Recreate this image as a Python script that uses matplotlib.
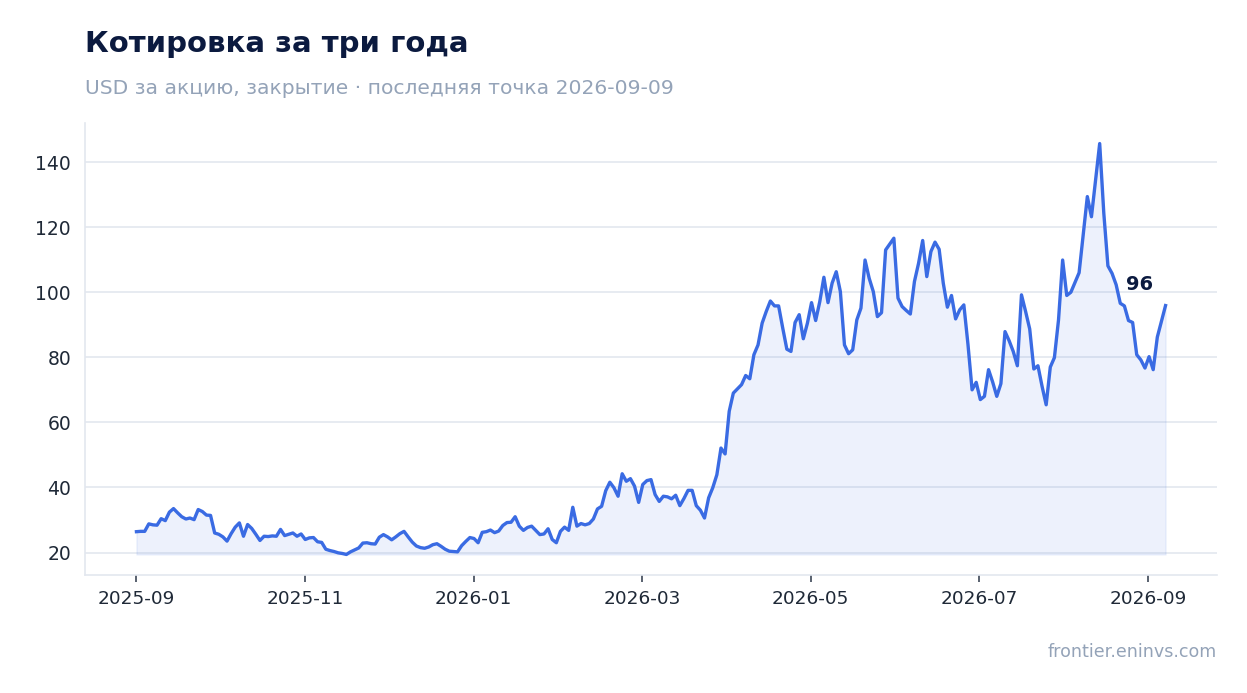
import numpy as np
import pandas as pd
import matplotlib
matplotlib.use("Agg")
import matplotlib.pyplot as plt
import matplotlib.dates as mdates
from matplotlib.ticker import FixedLocator, FixedFormatter

start_date = "2025-09-01"
end_date = "2026-09-09"

prices = [
    26.4, 26.5, 26.5, 28.8, 28.5, 28.4, 30.4, 29.8, 32.4, 33.5,
    32.2, 31.0, 30.3, 30.6, 30.1, 33.2, 32.6, 31.5, 31.4, 26.0,
    25.6, 24.8, 23.5, 25.8, 27.8, 29.1, 25.0, 28.6, 27.4, 25.6,
    23.7, 25.0, 24.9, 25.1, 25.0, 27.1, 25.2, 25.6, 26.0, 25.0,
    25.7, 24.0, 24.5, 24.6, 23.3, 23.1, 21.0, 20.6, 20.3, 19.9,
    19.7, 19.4, 20.2, 20.8, 21.4, 22.9, 23.0, 22.7, 22.6, 24.7,
    25.5, 24.8, 23.9, 24.8, 25.8, 26.5, 24.8, 23.2, 22.0, 21.5,
    21.3, 21.7, 22.4, 22.7, 21.9, 21.0, 20.4, 20.3, 20.2, 22.1,
    23.4, 24.6, 24.3, 23.0, 26.2, 26.4, 26.9, 26.1, 26.6, 28.3,
    29.2, 29.3, 31.0, 28.1, 26.8, 27.7, 28.1, 26.8, 25.5, 25.7,
    27.3, 24.0, 23.0, 26.5, 27.8, 26.8, 33.9, 28.1, 28.9, 28.5,
    28.9, 30.3, 33.4, 34.2, 39.0, 41.6, 39.9, 37.3, 44.2, 41.9,
    42.7, 40.4, 35.4, 40.9, 42.1, 42.4, 37.8, 35.7, 37.3, 37.1,
    36.5, 37.6, 34.4, 36.6, 39.1, 39.1, 34.4, 33.0, 30.6, 36.8,
    39.9, 43.9, 52.1, 50.3, 63.4, 69.0, 70.3, 71.6, 74.4, 73.4,
    80.8, 83.8, 90.5, 94.1, 97.3, 95.8, 95.8, 89.0, 82.5, 81.8,
    90.7, 93.1, 85.7, 90.5, 96.8, 91.3, 97.1, 104.6, 96.8, 102.8,
    106.3, 100.2, 83.8, 81.1, 82.3, 91.5, 95.1, 109.9, 104.3, 100.2,
    92.5, 93.7, 113.0, 114.8, 116.6, 98.2, 95.6, 94.4, 93.3, 103.3,
    108.9, 115.9, 104.8, 112.5, 115.4, 113.2, 102.8, 95.4, 99.0, 91.8,
    94.6, 96.1, 84.0, 70.0, 72.3, 67.0, 68.0, 76.2, 72.4, 68.0,
    71.9, 87.9, 85.1, 81.8, 77.4, 99.2, 94.1, 88.7, 76.4, 77.4,
    71.1, 65.4, 77.0, 79.9, 91.5, 109.9, 99.0, 100.0, 103.0, 106.0,
    117.6, 129.4, 123.2, 134.5, 145.7, 124.3, 108.1, 105.8, 102.3, 96.6,
    95.8, 91.3, 90.7, 80.8, 79.2, 76.7, 80.2, 76.2, 86.2, 91.0,
    95.9,
]

title_text = "Котировка за три года"
subtitle_text = "USD за акцию, закрытие · последняя точка 2026-09-09"
source_text = "frontier.eninvs.com"
yticks = [20, 40, 60, 80, 100, 120, 140]
xtick_labels = ["2025-09", "2025-11", "2026-01", "2026-03", "2026-05", "2026-07", "2026-09"]

dates = pd.date_range(start_date, end_date, periods=len(prices))
values = np.array(prices)

plt.rcParams['font.family'] = ['DejaVu Sans']

fig = plt.figure(figsize=(12.47, 6.93), dpi=100)
ax = fig.add_axes([85 / 1247, 118 / 693, 1132 / 1247, 452 / 693])

line_color = "#3a6be3"
ax.fill_between(dates, values, values.min(), color=line_color, alpha=0.09, linewidth=1)
ax.plot(dates, values, color=line_color, linewidth=2.4, solid_joinstyle="round")

ax.set_yticks(yticks)
ax.grid(axis="y", color="#e3e7ef", linewidth=1.2)
ax.set_axisbelow(True)
for s in ["top", "right"]:
    ax.spines[s].set_visible(False)
for s in ["left", "bottom"]:
    ax.spines[s].set_color("#e3e7ef")
    ax.spines[s].set_linewidth(1.2)

# evenly spaced date ticks (roughly two months apart), as in the reference
t0 = mdates.date2num(pd.Timestamp(start_date))
tick_pos = t0 + np.arange(len(xtick_labels)) * 61.1
ax.xaxis.set_major_locator(FixedLocator(tick_pos))
ax.xaxis.set_major_formatter(FixedFormatter(xtick_labels))
ax.tick_params(axis="x", colors="#1f2937", labelsize=13.3, length=5, width=1.3, color="#4b5563", pad=6)
ax.tick_params(axis="y", colors="#1f2937", labelsize=13.5, length=0, pad=10)

last_x = dates[-1]
last_y = values[-1]
ax.annotate(f"{last_y:.0f}", xy=(last_x, last_y), xytext=(-9, 8), textcoords="offset points",
            ha="right", va="bottom", fontsize=14, fontweight="bold", color="#0b1a3f")

fig.text(85 / 1247, 1 - 44 / 693, title_text, fontsize=21, fontweight="bold", color="#0b1a3f",
         ha="left", va="center")
fig.text(85 / 1247, 1 - 88 / 693, subtitle_text, fontsize=14.6, color="#94a3b8",
         ha="left", va="center")
fig.text(1217 / 1247, 1 - 652 / 693, source_text, fontsize=12.6, color="#94a3b8",
         ha="right", va="center")

fig.savefig("out.png", dpi=100)
